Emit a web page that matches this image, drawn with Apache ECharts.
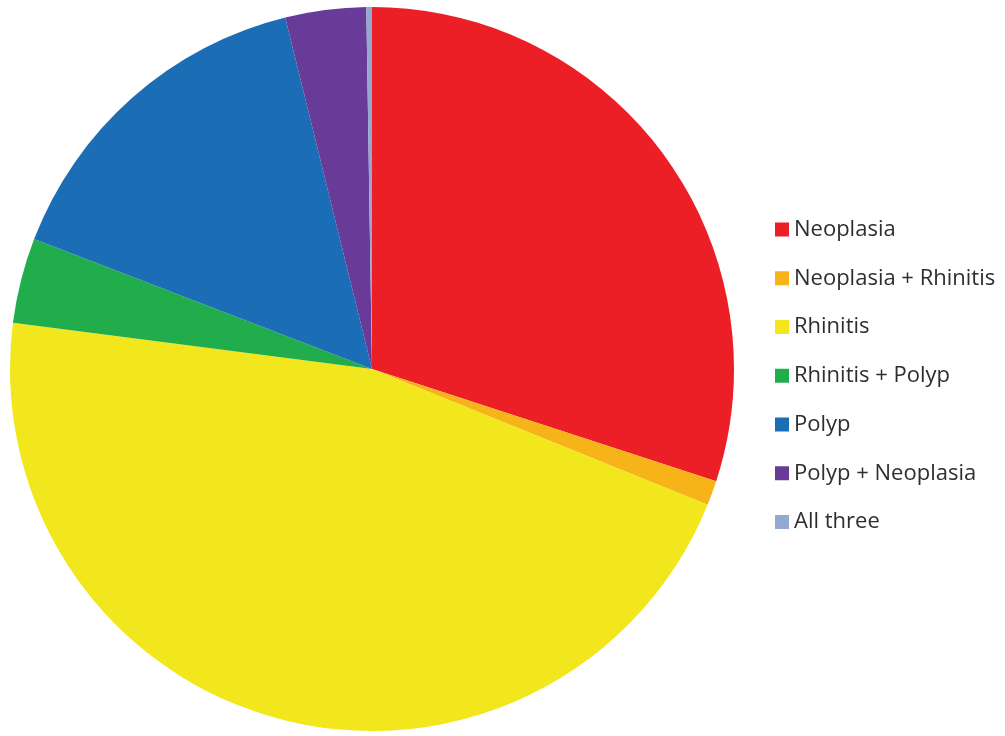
<!DOCTYPE html>
<html>
<head>
<meta charset="utf-8">
<script src="https://cdn.jsdelivr.net/npm/echarts@6/dist/echarts.min.js"></script>
<style>html,body{margin:0;padding:0;background:#fff;}#c{width:1005px;height:736px;}</style>
</head>
<body>
<div id="c"></div>
<script>
const categories = ["Neoplasia", "Neoplasia + Rhinitis", "Rhinitis", "Rhinitis + Polyp", "Polyp", "Polyp + Neoplasia", "All three"];
const values = [30.0, 1.1, 45.9, 3.8, 15.3, 3.6, 0.25];
const colors = ["#ec1f27", "#f6b419", "#f1e71c", "#22ad4c", "#1b6db5", "#693b98", "#93a9d2"];

const chart = echarts.init(document.getElementById('c'));
chart.setOption({
  animation: false,
  color: colors,
  legend: {
    orient: 'vertical',
    left: 770,
    top: 212.5,
    itemWidth: 14,
    itemHeight: 14,
    itemGap: 24.75,
    icon: 'rect',
    textStyle: { fontFamily: 'Open Sans', fontSize: 22, lineHeight: 24, color: '#2e2e2e' },
    data: categories
  },
  series: [{
    type: 'pie',
    center: [372, 369],
    radius: [0, 362],
    startAngle: 90,
    clockwise: true,
    label: { show: false },
    labelLine: { show: false },
    itemStyle: { borderWidth: 0 },
    emphasis: { disabled: true },
    data: categories.map((n, i) => ({ name: n, value: values[i] }))
  }]
});
</script>
</body>
</html>
